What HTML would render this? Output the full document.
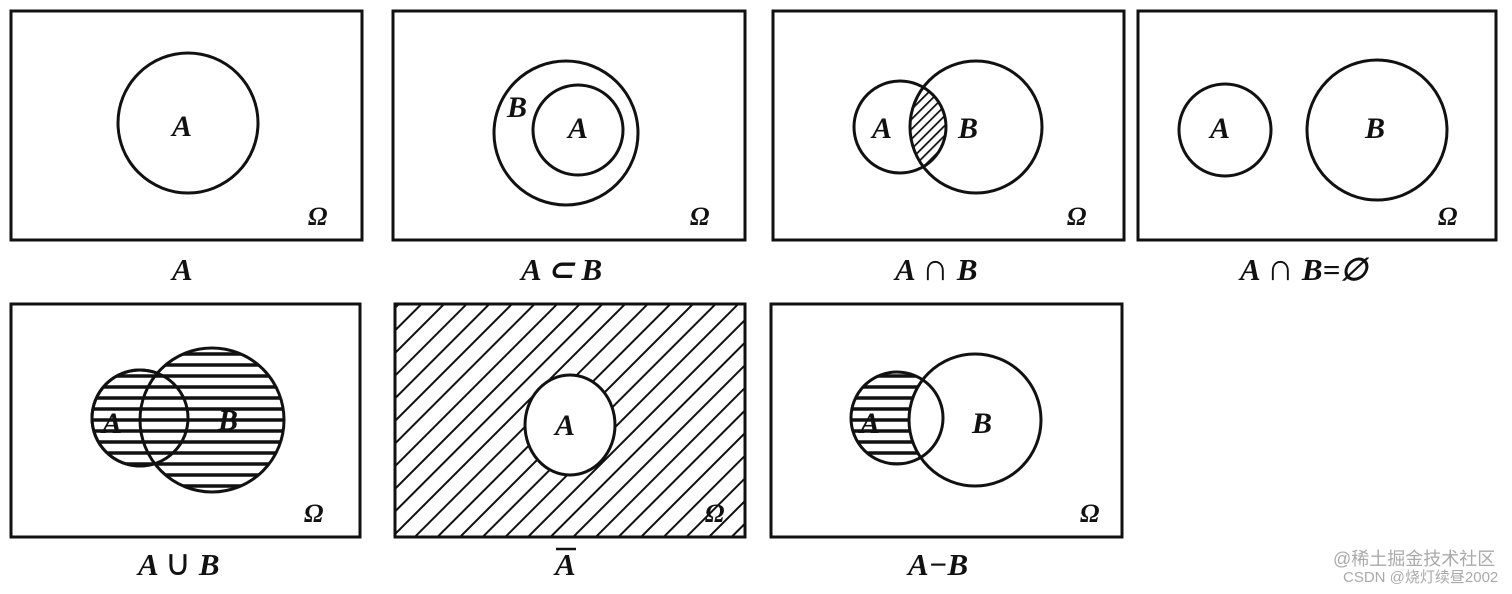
<!DOCTYPE html>
<html><head><meta charset="utf-8"><style>
body{margin:0;background:#fff;width:1512px;height:589px;overflow:hidden}
svg text{font-family:"Liberation Serif",serif;font-style:italic;font-weight:bold;fill:#111}
</style></head><body>
<svg width="1512" height="589" xmlns="http://www.w3.org/2000/svg">
<defs>
<pattern id="diag" width="16" height="16" patternUnits="userSpaceOnUse" patternTransform="rotate(-45)">
<rect width="16" height="16" fill="#fff"/><line x1="0" y1="0" x2="16" y2="0" stroke="#111" stroke-width="4"/></pattern>
<pattern id="diag2" width="7" height="7" patternUnits="userSpaceOnUse" patternTransform="rotate(-45)">
<rect width="7" height="7" fill="#fff"/><line x1="0" y1="0" x2="7" y2="0" stroke="#111" stroke-width="3.5"/></pattern>
<pattern id="hor" width="12" height="11" patternUnits="userSpaceOnUse">
<rect width="12" height="11" fill="#fff"/><line x1="0" y1="2" x2="12" y2="2" stroke="#111" stroke-width="3.5"/></pattern>
<clipPath id="c3a"><circle cx="900" cy="127" r="46"/></clipPath>
</defs>
<g fill="none" stroke="#111" stroke-width="3">
<rect x="11" y="11" width="351" height="229"/>
<rect x="393" y="11" width="352" height="229"/>
<rect x="773" y="11" width="351" height="229"/>
<rect x="1138" y="11" width="358" height="229"/>
<rect x="11" y="304" width="349" height="233"/>
<rect x="395" y="304" width="350" height="233" fill="url(#diag)"/>
<rect x="771" y="304" width="351" height="233"/>
</g>
<circle cx="188" cy="123" r="70" fill="none" stroke="#111" stroke-width="3"/>
<text x="172" y="136" font-size="30">A</text>
<circle cx="566" cy="133" r="72" fill="none" stroke="#111" stroke-width="3"/>
<circle cx="578" cy="130" r="45" fill="none" stroke="#111" stroke-width="3"/>
<text x="507" y="117" font-size="30">B</text>
<text x="568" y="138" font-size="30">A</text>
<circle cx="976" cy="127" r="66" fill="url(#diag2)" clip-path="url(#c3a)"/>
<circle cx="900" cy="127" r="46" fill="none" stroke="#111" stroke-width="3"/>
<circle cx="976" cy="127" r="66" fill="none" stroke="#111" stroke-width="3"/>
<text x="872" y="138" font-size="30">A</text>
<text x="958" y="138" font-size="30">B</text>
<circle cx="1225" cy="130" r="46" fill="none" stroke="#111" stroke-width="3"/>
<circle cx="1377" cy="130" r="70" fill="none" stroke="#111" stroke-width="3"/>
<text x="1210" y="138" font-size="30">A</text>
<text x="1365" y="138" font-size="30">B</text>
<circle cx="140" cy="418" r="48" fill="url(#hor)" stroke="#111" stroke-width="3"/>
<circle cx="212" cy="420" r="72" fill="url(#hor)" stroke="#111" stroke-width="3"/>
<circle cx="140" cy="418" r="48" fill="none" stroke="#111" stroke-width="3"/>
<text x="102" y="433" font-size="30">A</text>
<text x="218" y="430" font-size="30">B</text>
<ellipse cx="570" cy="425" rx="45" ry="50" fill="#fff" stroke="#111" stroke-width="3"/>
<text x="555" y="435" font-size="30">A</text>
<circle cx="897" cy="418" r="46" fill="url(#hor)"/>
<circle cx="975" cy="420" r="66" fill="#fff"/>
<circle cx="897" cy="418" r="46" fill="none" stroke="#111" stroke-width="3"/>
<circle cx="975" cy="420" r="66" fill="none" stroke="#111" stroke-width="3"/>
<text x="860" y="433" font-size="30">A</text>
<text x="972" y="433" font-size="30">B</text>
<g font-size="26">
<text x="308" y="225">Ω</text><text x="690" y="225">Ω</text><text x="1067" y="225">Ω</text><text x="1438" y="225">Ω</text>
<text x="304" y="522">Ω</text><text x="705" y="522">Ω</text><text x="1080" y="522">Ω</text>
</g>
<g font-size="31">
<text x="172" y="280">A</text>
<text x="521" y="280">A ⊂ B</text>
<text x="895" y="280">A <tspan font-size="38" font-style="normal" font-weight="normal">∩</tspan> B</text>
<text x="1240" y="280">A <tspan font-size="38" font-style="normal" font-weight="normal">∩</tspan> B=∅</text>
<text x="138" y="575">A <tspan font-size="36" font-style="normal" font-weight="normal">∪</tspan> B</text>
<text x="555" y="575">A</text>
<text x="908" y="575">A−B</text>
</g>
<line x1="556" y1="549" x2="576" y2="549" stroke="#111" stroke-width="2.5"/>
<text x="1333" y="565" font-size="18" style="font-style:normal;font-weight:normal;fill:#aaa;font-family:'Liberation Sans','Noto Sans CJK SC',sans-serif">@稀土掘金技术社区</text>
<text x="1343" y="582" font-size="15" style="font-style:normal;font-weight:normal;fill:#aaa;font-family:'Liberation Sans','Noto Sans CJK SC',sans-serif">CSDN @烧灯续昼2002</text>
</svg>
</body></html>
